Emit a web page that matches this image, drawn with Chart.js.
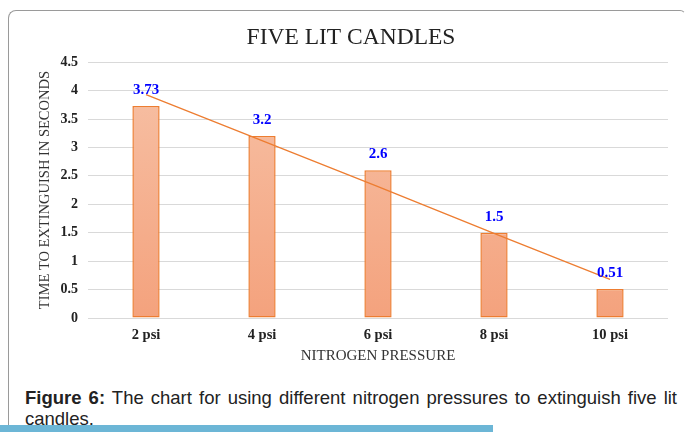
<!DOCTYPE html>
<html>
<head>
<meta charset="utf-8">
<script src="https://cdn.jsdelivr.net/npm/chart.js@4.4.0/dist/chart.umd.min.js"></script>
<style>
  html, body { margin: 0; padding: 0; background: #fff; }
  body { width: 690px; height: 432px; position: relative; overflow: hidden; }
  #frame {
    position: absolute; left: 8px; top: 10px; width: 676px; height: 440px;
    border: 1px solid #9a9a9a; border-right-color: transparent; border-radius: 8px 6px 0 0;
  }
  #wrap { position: absolute; left: 0; top: 0; width: 690px; height: 380px; }
  #caption {
    position: absolute; left: 25px; top: 387px; width: 652px;
    font-family: "Liberation Sans", Arial, sans-serif; font-size: 18.5px;
    line-height: 21px; color: #222; text-align: justify;
  }
  #bar {
    position: absolute; left: 0; top: 425px; width: 493px; height: 7px;
    background: #6cb6d6;
  }
</style>
</head>
<body>
<div id="frame"></div>
<div id="wrap"><canvas id="chart" width="690" height="380"></canvas></div>
<div id="caption"><b>Figure 6:</b> The chart for using different nitrogen pressures to extinguish five lit candles.</div>
<div id="bar"></div>
<script>
const categories = ['2 psi', '4 psi', '6 psi', '8 psi', '10 psi'];
const times = [3.73, 3.2, 2.6, 1.5, 0.51];
const trend = [3.93, 3.12, 2.31, 1.49, 0.68];
const yTicks = [0, 0.5, 1, 1.5, 2, 2.5, 3, 3.5, 4, 4.5];

const serif = '"Liberation Serif", "Times New Roman", serif';

// blue value labels above each bar
const valueLabels = {
  id: 'valueLabels',
  afterDatasetsDraw(chart) {
    const ctx = chart.ctx;
    const meta = chart.getDatasetMeta(0);
    ctx.save();
    ctx.font = 'bold 15px ' + serif;
    ctx.fillStyle = '#0000ff';
    ctx.textAlign = 'center';
    ctx.textBaseline = 'middle';
    meta.data.forEach((bar, i) => {
      ctx.fillText(String(times[i]), bar.x, bar.y - 16);
    });
    ctx.restore();
  }
};

function barFill(context) {
  const area = context.chart.chartArea;
  if (!area) return '#f6b08f';
  const g = context.chart.ctx.createLinearGradient(0, area.top, 0, area.bottom);
  g.addColorStop(0, '#f7c2a7');
  g.addColorStop(1, '#f4a27d');
  return g;
}

new Chart(document.getElementById('chart'), {
  data: {
    labels: categories,
    datasets: [
      {
        type: 'bar',
        data: times,
        backgroundColor: barFill,
        borderColor: '#ed7d31',
        borderWidth: 1.5,
        borderSkipped: false,
        categoryPercentage: 1,
        barPercentage: 0.235,
        order: 2
      },
      {
        type: 'line',
        data: trend,
        borderColor: '#ed7d31',
        borderWidth: 1.3,
        pointRadius: 0,
        fill: false,
        order: 1
      }
    ]
  },
  options: {
    responsive: false,
    animation: false,
    layout: { padding: { left: 34, right: 22, top: 13, bottom: 15 } },
    plugins: {
      legend: { display: false },
      tooltip: { enabled: false },
      title: {
        display: true,
        text: 'FIVE LIT CANDLES',
        color: '#222',
        font: { family: serif, size: 23.5, weight: 'normal' },
        padding: { top: 11, bottom: 10 }
      }
    },
    scales: {
      x: {
        afterFit(scale) { scale.height = 47; },
        grid: { display: false, drawTicks: false },
        border: { display: false },
        ticks: { color: '#222', font: { family: serif, size: 14.5, weight: 'bold' }, padding: 9 },
        title: {
          display: true,
          text: 'NITROGEN PRESSURE',
          color: '#333',
          font: { family: serif, size: 15, weight: 'normal' },
          padding: { top: 0, bottom: 0 }
        }
      },
      y: {
        min: 0,
        max: 4.5,
        afterBuildTicks(scale) {
          scale.ticks = yTicks.map(v => ({ value: v }));
        },
        afterFit(scale) { scale.width = 54; },
        grid: { color: '#d9d9d9', lineWidth: 1, drawTicks: false },
        border: { display: false },
        ticks: {
          color: '#222',
          font: { family: serif, size: 14, weight: 'bold' },
          padding: 10,
          callback: v => String(v)
        },
        title: {
          display: true,
          text: 'TIME TO EXTINGUISH IN SECONDS',
          color: '#333',
          font: { family: serif, size: 14.5, weight: 'normal' },
          padding: { top: 2, bottom: 0 }
        }
      }
    }
  },
  plugins: [valueLabels]
});
</script>
</body>
</html>
